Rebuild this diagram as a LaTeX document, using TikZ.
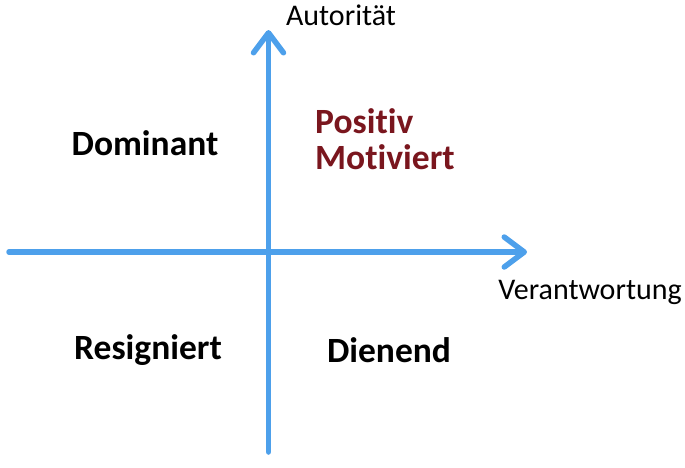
\documentclass[tikz,border=0pt]{standalone}
\usepackage{fontspec}
\setmainfont{Carlito}[RawFeature=-liga]
\usetikzlibrary{arrows.meta}
\definecolor{axisblue}{RGB}{77,160,235}
\definecolor{darkred}{RGB}{122,22,30}
\tikzset{
  axis/.style={draw=axisblue, line width=5.5pt, line cap=round, line join=round,
    -{Straight Barb[length=20pt,width=30pt,line cap=round,line join=round]}},
  axislabel/.style={font=\fontsize{30}{34}\selectfont, inner sep=0pt},
  quadlabel/.style={font=\fontsize{35.5}{40}\selectfont\bfseries, inner sep=0pt},
}
\begin{document}
\begin{tikzpicture}[x=1pt,y=-1pt]
\useasboundingbox (0,0) rectangle (685,467);
\coordinate (vbot) at (268.5,452);
\coordinate (vtop) at (268.5,30);
\coordinate (hleft) at (9,252);
\coordinate (hright) at (527,252);
\draw[axis] (vbot) -- (vtop);
\draw[axis] (hleft) -- (hright);
\node[axislabel] (aut) at (341,15) {Autorität};
\node[axislabel] (ver) at (590,292) {Verantwortung};
\node[quadlabel] (dom) at (145,143) {Dominant};
\node[quadlabel, text=darkred, anchor=west] (pos) at (315,121) {Positiv};
\node[quadlabel, text=darkred, anchor=west] (mot) at (315,157) {Motiviert};
\node[quadlabel] (res) at (148,350) {Resigniert};
\node[quadlabel] (die) at (389,350) {Dienend};
\end{tikzpicture}
\end{document}
